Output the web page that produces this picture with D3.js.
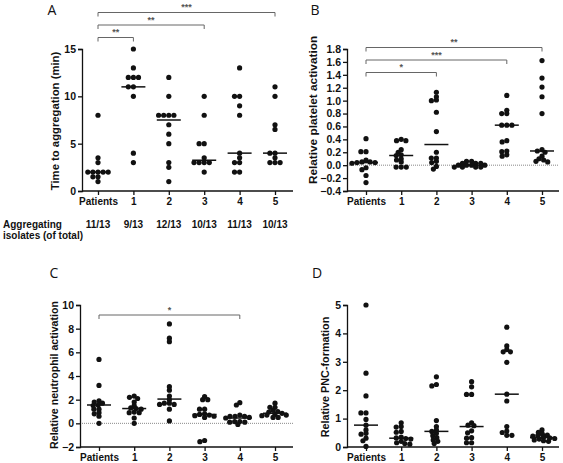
<!DOCTYPE html>
<html><head><meta charset="utf-8">
<script src="https://cdn.jsdelivr.net/npm/d3@7"></script>
<style>body{margin:0;background:#fff}svg{display:block}</style>
</head><body><svg id="c" width="563" height="463"></svg>
<script>
// ---------------- data ----------------
const categories = ["Patients", "1", "2", "3", "4", "5"];
const aggregatingLabels = ["11/13", "9/13", "12/13", "10/13", "11/13", "10/13"];

const timeToAggregation = [
  [8, 3.5, 3, 2, 2, 2, 2, 2, 1.5, 1.5, 1],
  [15, 13, 12, 12, 12, 11, 11, 10, 4, 3],
  [12, 10, 8, 8, 8, 8, 7, 6, 5, 3, 2.5, 1],
  [10, 8, 5, 5, 3.5, 3, 3, 3, 3, 2],
  [13, 10, 10, 9, 8, 4, 3.5, 3, 3, 2, 2],
  [11, 10, 7, 6.5, 4, 4, 3.5, 3, 3, 3]
];
const timeMedians = [2, 11, 7.5, 3.25, 4, 4];

const plateletActivation = [
  [0.41, 0.21, 0.21, 0.08, 0.05, 0.05, 0.04, 0.04, 0.03, -0.04, -0.07, -0.16, -0.27],
  [0.40, 0.38, 0.38, 0.24, 0.20, 0.16, 0.15, 0.10, 0.08, 0.05, -0.03, -0.03, -0.03],
  [1.13, 1.06, 1.01, 1.00, 0.82, 0.52, 0.20, 0.11, 0.11, 0.06, 0.04, -0.02, -0.06],
  [0.06, 0.06, 0.03, 0.03, 0.03, 0.00, 0.00, 0.00, 0.00, -0.03, -0.03, -0.03, -0.03],
  [1.08, 0.85, 0.80, 0.80, 0.62, 0.62, 0.62, 0.38, 0.36, 0.22, 0.21, 0.16, 0.14],
  [1.62, 1.35, 1.21, 1.06, 0.80, 0.24, 0.22, 0.20, 0.14, 0.10, 0.08, 0.06, 0.05]
];
const plateletMedians = [0.04, 0.15, 0.32, 0.0, 0.62, 0.22];

const neutrophilActivation = [
  [5.4, 3.2, 1.9, 1.8, 1.7, 1.55, 1.5, 1.2, 1.2, 0.9, 0.8, 0.6, 0.0],
  [2.3, 2.2, 2.1, 1.8, 1.5, 1.3, 1.25, 1.2, 0.95, 0.9, 0.9, 0.45, 0.0],
  [8.4, 7.2, 6.9, 3.1, 2.8, 2.3, 2.0, 1.7, 1.7, 1.6, 1.6, 1.2, 0.2],
  [2.25, 2.0, 2.0, 1.2, 1.2, 0.8, 0.75, 0.7, 0.65, 0.6, 0.5, -1.45, -1.55],
  [1.75, 1.55, 0.7, 0.6, 0.6, 0.6, 0.5, 0.45, 0.15, 0.15, 0.1, 0.1, -0.1],
  [1.7, 1.35, 1.35, 1.1, 1.0, 0.95, 0.85, 0.75, 0.7, 0.7, 0.65, 0.5, 0.5]
];
const neutrophilMedians = [1.55, 1.25, 2.05, 0.75, 0.45, 0.85];

const pncFormation = [
  [5.0, 2.6, 1.8, 1.2, 1.2, 0.97, 0.77, 0.6, 0.48, 0.45, 0.31, 0.22, 0.02],
  [0.85, 0.72, 0.70, 0.55, 0.52, 0.35, 0.32, 0.30, 0.28, 0.2, 0.15, 0.12, 0.1],
  [2.47, 2.2, 2.15, 0.93, 0.72, 0.6, 0.55, 0.48, 0.4, 0.33, 0.25, 0.2, 0.12],
  [2.3, 2.12, 1.85, 1.85, 0.85, 0.77, 0.75, 0.57, 0.5, 0.33, 0.31, 0.15, 0.15],
  [4.22, 3.56, 3.43, 3.35, 3.35, 2.98, 1.86, 1.62, 0.72, 0.56, 0.51, 0.41, 0.41],
  [0.6, 0.52, 0.45, 0.42, 0.4, 0.38, 0.34, 0.32, 0.3, 0.28, 0.25, 0.22, 0.2]
];
const pncMedians = [0.77, 0.31, 0.55, 0.72, 1.86, 0.33];

const ticksA = [0, 5, 10, 15];
const ticksB = [-0.4, -0.2, 0, 0.2, 0.4, 0.6, 0.8, 1.0, 1.2, 1.4, 1.6, 1.8];
const ticksC = [-2, 0, 2, 4, 6, 8, 10];
const ticksD = [0, 1, 2, 3, 4, 5];

const sigA = [{from: "Patients", to: "1", label: "**"}, {from: "Patients", to: "3", label: "**"}, {from: "Patients", to: "5", label: "***"}];
const sigB = [{from: "Patients", to: "2", label: "*"}, {from: "Patients", to: "4", label: "***"}, {from: "Patients", to: "5", label: "**"}];
const sigC = [{from: "Patients", to: "4", label: "*"}];
const sigD = [];

// ---------------- layout / style ----------------
const FONT = "'Liberation Sans', Arial, sans-serif";
const svg = d3.select("#c");
svg.append("rect").attr("width", 563).attr("height", 463).attr("fill", "#fff");

const panels = [
  {letter: "A", lx: 52, ly: 15, values: timeToAggregation, medians: timeMedians, ticks: ticksA, fmt: d3.format("d"),
   domain: [0, 15], yTop: 49, yBot: 191, axisX: 82, axisEnd: 293, c0: 98, c1: 275,
   title: "Time to aggregation (min)", tx: 55, ty: 121, tsize: 11.3, sig: sigA, sigBase: 37.5, sigStep: 12.5, zero: false},
  {letter: "B", lx: 315, ly: 15, values: plateletActivation, medians: plateletMedians, ticks: ticksB, fmt: d3.format(".1f"),
   domain: [-0.4, 1.8], yTop: 49, yBot: 191, axisX: 347, axisEnd: 559, c0: 366, c1: 542,
   title: "Relative platelet activation", tx: 313, ty: 110, tsize: 11.8, sig: sigB, sigBase: 72.5, sigStep: 12.5, zero: true},
  {letter: "C", lx: 54, ly: 278, values: neutrophilActivation, medians: neutrophilMedians, ticks: ticksC, fmt: d3.format("d"),
   domain: [-2, 10], yTop: 305, yBot: 447, axisX: 80, axisEnd: 293, c0: 99, c1: 275,
   title: "Relative neutrophil activation", tx: 54, ty: 375, tsize: 10.6, sig: sigC, sigBase: 315, sigStep: 12.5, zero: true},
  {letter: "D", lx: 317, ly: 278, values: pncFormation, medians: pncMedians, ticks: ticksD, fmt: d3.format("d"),
   domain: [0, 5], yTop: 305, yBot: 447, axisX: 347, axisEnd: 559, c0: 366, c1: 542,
   title: "Relative PNC-formation", tx: 325, ty: 377, tsize: 10.8, sig: sigD, sigBase: 0, sigStep: 0, zero: false}
];

const R = 2.6, DX = 5.1, DY = 3.2;
function swarm(ys) {
  const placed = [];
  return ys.map(y => {
    const ints = [];
    placed.forEach(p => {
      const dy = Math.abs(p.y - y);
      if (dy < DY) { const w = DX * Math.sqrt(1 - (dy / DY) * (dy / DY)); ints.push([p.x - w, p.x + w]); }
    });
    const cands = [0];
    ints.forEach(i => cands.push(i[0], i[1]));
    cands.sort((a, b) => Math.abs(a) - Math.abs(b) || a - b);
    const x = cands.find(c => ints.every(i => c <= i[0] + 1e-6 || c >= i[1] - 1e-6));
    placed.push({x, y});
    return x;
  });
}

panels.forEach(p => {
  const g = svg.append("g");
  const y = d3.scaleLinear().domain(p.domain).range([p.yBot, p.yTop]);
  const x = d3.scalePoint().domain(categories).range([p.c0, p.c1]);

  g.append("text").attr("x", p.lx).attr("y", p.ly).attr("text-anchor", "middle")
    .attr("font-family", "'Open Sans', 'DejaVu Sans', sans-serif").attr("font-size", 14).attr("fill", "#111")
    .text(p.letter);

  if (p.zero) {
    g.append("line").attr("x1", p.axisX).attr("x2", p.axisEnd).attr("y1", y(0)).attr("y2", y(0))
      .attr("stroke", "#888").attr("stroke-width", 1).attr("stroke-dasharray", "1,1");
  }

  const ya = g.append("g").attr("transform", `translate(${p.axisX},0)`)
    .call(d3.axisLeft(y).tickValues(p.ticks).tickFormat(p.fmt).tickSize(4).tickPadding(2));
  const xa = g.append("g").attr("transform", `translate(0,${p.yBot})`)
    .call(d3.axisBottom(x).tickSize(4).tickPadding(3));
  xa.select(".domain").attr("d", `M${p.axisX},0H${p.axisEnd}`);
  [ya, xa].forEach(a => {
    a.selectAll(".domain").attr("stroke", "#111").attr("stroke-width", 1.3);
    a.selectAll(".tick line").attr("stroke", "#111").attr("stroke-width", 1.3);
    a.selectAll("text").attr("font-family", FONT).attr("font-weight", "bold").attr("fill", "#111");
  });
  ya.selectAll("text").attr("font-size", 10.5);
  xa.selectAll("text").attr("font-size", 10);

  g.append("text").attr("transform", `translate(${p.tx},${p.ty}) rotate(-90)`)
    .attr("text-anchor", "middle").attr("dy", "0.35em")
    .attr("font-family", FONT).attr("font-weight", "bold").attr("font-size", p.tsize).attr("fill", "#111")
    .text(p.title);

  p.values.forEach((vals, i) => {
    const cx = x(categories[i]);
    const ys = vals.map(v => y(v));
    const offs = swarm(ys);
    g.append("g").selectAll("circle").data(vals).join("circle")
      .attr("cx", (d, j) => cx + offs[j]).attr("cy", d => y(d)).attr("r", R).attr("fill", "#111");
    g.append("line").attr("x1", cx - 12).attr("x2", cx + 12)
      .attr("y1", y(p.medians[i])).attr("y2", y(p.medians[i]))
      .attr("stroke", "#111").attr("stroke-width", 1.5);
  });

  p.sig.forEach((s, k) => {
    const by = p.sigBase - k * p.sigStep;
    const xa0 = x(s.from), xa1 = x(s.to);
    g.append("path").attr("d", `M${xa0},${by + 4}V${by}H${xa1}V${by + 4}`)
      .attr("fill", "none").attr("stroke", "#666").attr("stroke-width", 1);
    g.append("text").attr("x", (xa0 + xa1) / 2).attr("y", by - 2.5).attr("text-anchor", "middle")
      .attr("font-family", FONT).attr("font-weight", "bold").attr("font-size", 9).attr("fill", "#555")
      .text(s.label);
  });

  if (p.letter === "A") {
    g.append("text").attr("x", 3).attr("y", 228).attr("font-family", FONT).attr("font-weight", "bold")
      .attr("font-size", 10).attr("fill", "#111").text("Aggregating");
    g.append("text").attr("x", 3).attr("y", 239).attr("font-family", FONT).attr("font-weight", "bold")
      .attr("font-size", 10).attr("fill", "#111").text("isolates (of total)");
    g.append("g").selectAll("text").data(aggregatingLabels).join("text")
      .attr("x", (d, i) => x(categories[i])).attr("y", 228).attr("text-anchor", "middle")
      .attr("font-family", FONT).attr("font-weight", "bold").attr("font-size", 10).attr("fill", "#111")
      .text(d => d);
  }
});
</script></body></html>
